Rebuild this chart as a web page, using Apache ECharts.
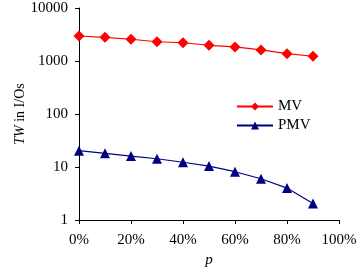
<!DOCTYPE html>
<html><head><meta charset="utf-8">
<script src="https://cdn.jsdelivr.net/npm/echarts@6/dist/echarts.min.js"></script>
<style>html,body{margin:0;padding:0;background:#fff}#c{width:356px;height:270px}</style>
</head><body><div id="c"></div>
<script>
var pValues = [0, 10, 20, 30, 40, 50, 60, 70, 80, 90];
var mvValues = [2960, 2800, 2570, 2310, 2210, 1980, 1840, 1615, 1375, 1230];
var pmvValues = [20.3, 18.1, 16.1, 14.3, 12.3, 10.4, 8.15, 6.0, 4.0, 2.05];
var seriesNames = ['MV', 'PMV'];

function pairs(xs, ys){ return xs.map(function(x,i){ return [x, ys[i]]; }); }
var font = '"Liberation Serif","DejaVu Serif",serif';
var chart = echarts.init(document.getElementById('c'), null, {renderer:'canvas'});
chart.setOption({
  animation:false,
  grid:{left:79, right:17, top:8, bottom:50, containLabel:false, outerBoundsMode:'none'},
  legend:{
    orient:'vertical', left:236, top:99, padding:0, itemGap:4, itemWidth:36, itemHeight:10,
    textStyle:{fontFamily:font, fontSize:15, color:'#000'},
    data:seriesNames
  },
  xAxis:{
    type:'value', min:0, max:100, interval:20,
    name:'p', nameLocation:'middle', nameGap:33, nameMoveOverlap:false,
    nameTextStyle:{fontFamily:font, fontSize:15, fontStyle:'italic', color:'#000'},
    axisLine:{lineStyle:{color:'#000', width:1}},
    axisTick:{show:true, length:4, inside:false, lineStyle:{color:'#000'}},
    axisLabel:{formatter:'{value}%', fontFamily:font, fontSize:15, color:'#000', margin:13},
    splitLine:{show:false}
  },
  yAxis:{
    type:'log', logBase:10, min:1, max:10000,
    name:'{i|TW} in I/Os', nameLocation:'middle', nameGap:52, nameRotate:90, nameMoveOverlap:false,
    nameTextStyle:{fontFamily:font, fontSize:14, color:'#000',
      rich:{i:{fontFamily:font, fontSize:14, fontStyle:'italic', color:'#000'}}},
    axisLine:{show:true, lineStyle:{color:'#000', width:1}},
    axisTick:{show:true, length:4, lineStyle:{color:'#000'}},
    minorTick:{show:false},
    axisLabel:{fontFamily:font, fontSize:15, color:'#000', margin:11,
      formatter:function(v){ return String(Math.round(v)); }},
    splitLine:{show:false}
  },
  series:[
    {name:seriesNames[0], type:'line', data:pairs(pValues, mvValues),
     symbol:'diamond', symbolSize:11, color:'#FF0000',
     lineStyle:{color:'#FF0000', width:1.2}, itemStyle:{color:'#FF0000'}},
    {name:seriesNames[1], type:'line', data:pairs(pValues, pmvValues),
     symbol:'triangle', symbolSize:10, color:'#000080',
     lineStyle:{color:'#000080', width:1.2}, itemStyle:{color:'#000080'}}
  ]
});
</script></body></html>
